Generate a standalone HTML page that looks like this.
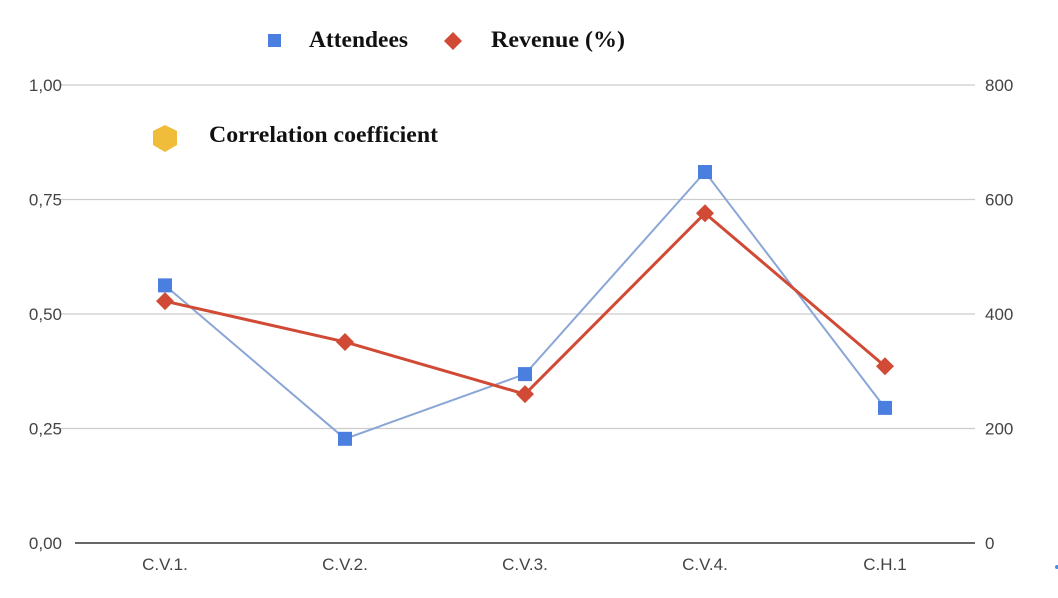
<!DOCTYPE html>
<html><head><meta charset="utf-8"><style>
html,body{margin:0;padding:0;background:#fff;}
svg{display:block;}
</style></head><body>
<svg id="chart" width="1058" height="598" xmlns="http://www.w3.org/2000/svg">
<g id="grid"></g>
<g id="series"></g>
<g id="legend">
 <rect x="268" y="34" width="13" height="13" fill="#4a7fe0"/>
 <text x="309" y="47" textLength="99" lengthAdjust="spacingAndGlyphs" font-family="Liberation Serif, serif" font-weight="bold" font-size="23" fill="#111">Attendees</text>
 <polygon points="453,32 462,41 453,50 444,41" fill="#d04a35"/>
 <text x="491" y="47" textLength="134" lengthAdjust="spacingAndGlyphs" font-family="Liberation Serif, serif" font-weight="bold" font-size="23" fill="#111">Revenue (%)</text>
 <polygon points="165,125 177,131 177,145 165,152 153,145 153,131" fill="#f0bd3a"/>
 <text x="209" y="142" textLength="229" lengthAdjust="spacingAndGlyphs" font-family="Liberation Serif, serif" font-weight="bold" font-size="23" fill="#111">Correlation coefficient</text>
</g>
<circle cx="1057" cy="567" r="2" fill="#4a90e2"/>
</svg>
<script>
const categories = ["C.V.1.","C.V.2.","C.V.3.","C.V.4.","C.H.1"];
const attendees = [450, 182, 295, 648, 236];
const revenue = [0.528, 0.439, 0.325, 0.72, 0.386];
const leftTicks = [0, 0.25, 0.5, 0.75, 1.0];
const leftTickLabels = ["0,00","0,25","0,50","0,75","1,00"];
const rightTicks = [0, 200, 400, 600, 800];

const NS = "http://www.w3.org/2000/svg";
const X0 = 75, X1 = 975, Y0 = 543, Y1 = 85;
const xPos = i => X0 + (X1 - X0) * (i + 0.5) / categories.length;
const yLeft = v => Y0 - (v / 1.0) * (Y0 - Y1);
const yRight = v => Y0 - (v / 800) * (Y0 - Y1);
function mk(tag, attrs, parent){const e=document.createElementNS(NS,tag);for(const k in attrs)e.setAttribute(k,attrs[k]);parent.appendChild(e);return e;}
const grid=document.getElementById('grid');
leftTicks.forEach((t,i)=>{
  const y=yLeft(t);
  const ln=mk('line',{x1:i===0?75:60,x2:X1,y1:y,y2:y,stroke:i===0?'#333':'#ccc','stroke-width':i===0?1.6:1.2},grid);
  
  
  const tl=mk('text',{x:62,y:y+6,'text-anchor':'end','font-family':'Liberation Sans, sans-serif','font-size':17,fill:'#444'},grid);
  tl.textContent=leftTickLabels[i];
  
  
});
rightTicks.forEach(t=>{
  const y=yRight(t);
  const tl=mk('text',{x:985,y:y+6,'font-family':'Liberation Sans, sans-serif','font-size':17,fill:'#444'},grid);
  tl.textContent=String(t);
  
  
});
categories.forEach((c,i)=>{
  const tl=mk('text',{x:xPos(i),y:570,'text-anchor':'middle','font-family':'Liberation Sans, sans-serif','font-size':17,fill:'#444'},grid);
  tl.textContent=c;
  
  
});
const s=document.getElementById('series');
const bl=mk('polyline',{points:attendees.map((v,i)=>xPos(i)+','+yRight(v)).join(' '),fill:'none',stroke:'#8aa6d6','stroke-width':2},s);


const rl=mk('polyline',{points:revenue.map((v,i)=>xPos(i)+','+yLeft(v)).join(' '),fill:'none',stroke:'#d04a35','stroke-width':3},s);


attendees.forEach((v,i)=>{
  const r=mk('rect',{x:xPos(i)-7,y:yRight(v)-7,width:14,height:14,fill:'#4a7fe0'},s);
  
  
});
revenue.forEach((v,i)=>{
  const x=xPos(i),y=yLeft(v);
  const p=mk('polygon',{points:`${x},${y-9} ${x+9},${y} ${x},${y+9} ${x-9},${y}`,fill:'#d04a35'},s);
  
  
});
</script>
</body></html>
